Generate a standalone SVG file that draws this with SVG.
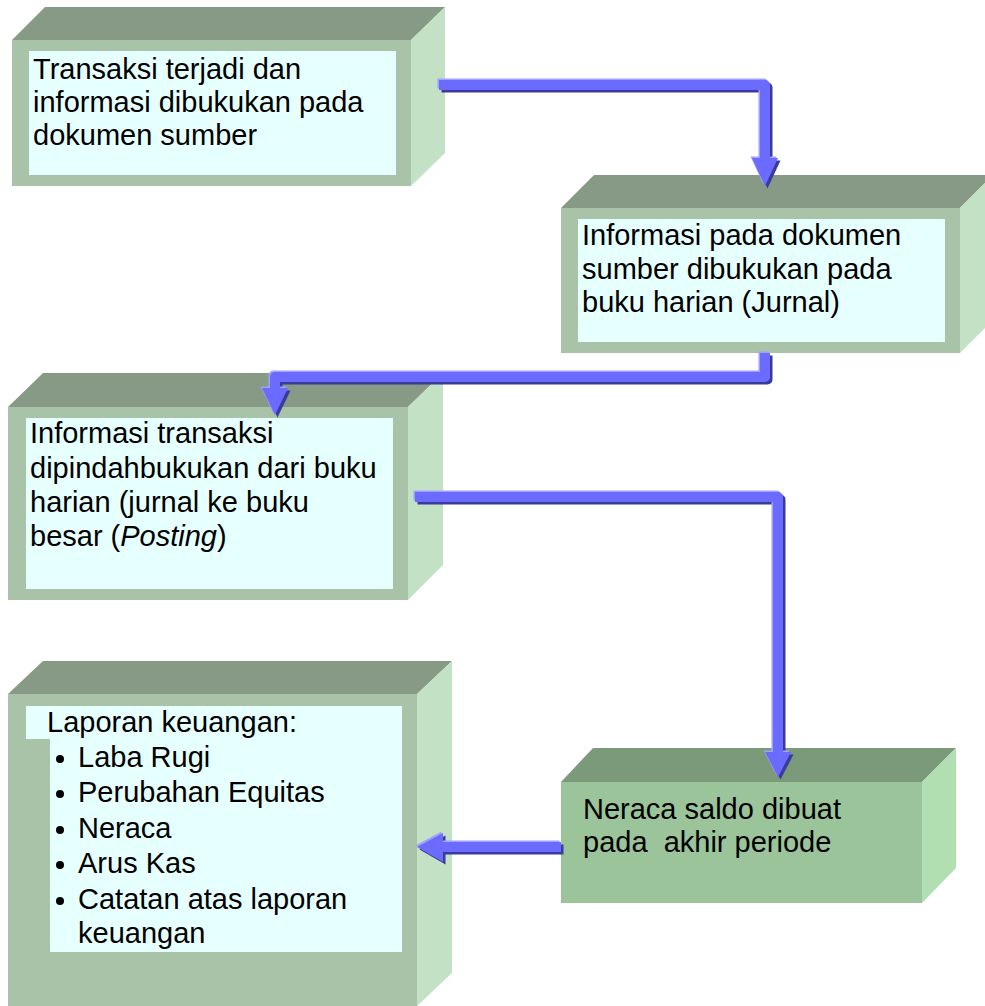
<svg xmlns="http://www.w3.org/2000/svg" width="985" height="1006" viewBox="0 0 985 1006">
<style>
.front{fill:#a8c3a7}
.top{fill:#869a85}
.side{fill:#c3e1c4}
.inner{fill:#e6ffff}
.front5{fill:#9bc49b}
.top5{fill:#7b9a7a}
.side5{fill:#b2dfb2}
.t{font-family:"Liberation Sans",Arial,sans-serif;font-size:29px;fill:#000;white-space:pre}
.shaft{fill:none;stroke-width:10;stroke-linejoin:round}
.dark{stroke:#3a3a9c;fill:#3a3a9c}
.light{stroke:#a0a0ff;fill:#a0a0ff}
.main{stroke:#6b6bff;fill:#6b6bff}
.head{stroke:none}
</style>
<defs>
<g id="a1"><path class="shaft" d="M439,85 H765 V160"/><polygon class="head" points="752,158 778,158 765,186"/></g>
<g id="a2"><path class="shaft" d="M765,353 V377 H275 V390"/><polygon class="head" points="262,388 288,388 275,415"/></g>
<g id="a3"><path class="shaft" d="M415,497 H778 V754"/><polygon class="head" points="765,752 791,752 778,777"/></g>
<g id="a4"><path class="shaft" d="M561,847 H441"/><polygon class="head" points="443,833 443,862 417,847"/></g>
</defs>

<g id="node1">
<rect class="front" x="12" y="40" width="399" height="146"/>
<polygon class="top" points="12,40 45,7 445,7 411,40"/>
<polygon class="side" points="411,40 445,7 445,153 411,186"/>
<rect class="inner" x="29" y="51" width="367" height="124"/>
<text class="t" x="33" y="79">Transaksi terjadi dan</text>
<text class="t" x="33" y="112">informasi dibukukan pada</text>
<text class="t" x="33" y="145">dokumen sumber</text>
</g>

<g id="node2">
<rect class="front" x="561" y="208" width="399" height="145"/>
<polygon class="top" points="561,208 594,175 993,175 960,208"/>
<polygon class="side" points="960,208 993,175 993,320 960,353"/>
<rect class="inner" x="578" y="219" width="367" height="123"/>
<text class="t" x="582" y="245">Informasi pada dokumen</text>
<text class="t" x="582" y="279">sumber dibukukan pada</text>
<text class="t" x="582" y="312">buku harian (Jurnal)</text>
</g>

<g id="node3">
<rect class="front" x="8" y="407" width="400" height="193"/>
<polygon class="top" points="8,407 43,373 443,373 408,407"/>
<polygon class="side" points="408,407 443,373 443,565 408,600"/>
<rect class="inner" x="26" y="418" width="367" height="171"/>
<text class="t" x="30" y="443">Informasi transaksi</text>
<text class="t" x="30" y="478">dipindahbukukan dari buku</text>
<text class="t" x="30" y="512">harian (jurnal ke buku</text>
<text class="t" x="30" y="546">besar (<tspan font-style="italic">Posting</tspan>)</text>
</g>

<g id="node4">
<rect class="front" x="8" y="694" width="409" height="320"/>
<polygon class="top" points="8,694 43,661 452,661 417,694"/>
<polygon class="side" points="417,694 452,661 452,973 417,1006"/>
<polygon class="inner" points="26,706 402,706 402,952 50,952 50,739 26,739"/>
<text class="t" x="47" y="732">Laporan keuangan:</text>
<circle cx="60" cy="759" r="4"/>
<circle cx="60" cy="794" r="4"/>
<circle cx="60" cy="830" r="4"/>
<circle cx="60" cy="865" r="4"/>
<circle cx="60" cy="901" r="4"/>
<text class="t" x="78" y="767">Laba Rugi</text>
<text class="t" x="78" y="802">Perubahan Equitas</text>
<text class="t" x="78" y="838">Neraca</text>
<text class="t" x="78" y="873">Arus Kas</text>
<text class="t" x="78" y="909">Catatan atas laporan</text>
<text class="t" x="78" y="943">keuangan</text>
</g>

<g id="node5">
<rect class="front5" x="561" y="782" width="361" height="121"/>
<polygon class="top5" points="561,782 593,748 956,748 922,782"/>
<polygon class="side5" points="922,782 956,748 956,868 922,903"/>
<text class="t" x="583" y="819">Neraca saldo dibuat</text>
<text class="t" x="583" y="852">pada  akhir periode</text>
</g>

<g id="connectors">
<use href="#a1" class="dark" transform="translate(2.5,2.5)"/>
<use href="#a1" class="light" transform="translate(-1.5,-1.5)"/>
<use href="#a1" class="main"/>
<use href="#a2" class="dark" transform="translate(2.5,2.5)"/>
<use href="#a2" class="light" transform="translate(-1.5,-1.5)"/>
<use href="#a2" class="main"/>
<use href="#a3" class="dark" transform="translate(2.5,2.5)"/>
<use href="#a3" class="light" transform="translate(-1.5,-1.5)"/>
<use href="#a3" class="main"/>
<use href="#a4" class="dark" transform="translate(2.5,2.5)"/>
<use href="#a4" class="light" transform="translate(-1.5,-1.5)"/>
<use href="#a4" class="main"/>
</g>
</svg>
